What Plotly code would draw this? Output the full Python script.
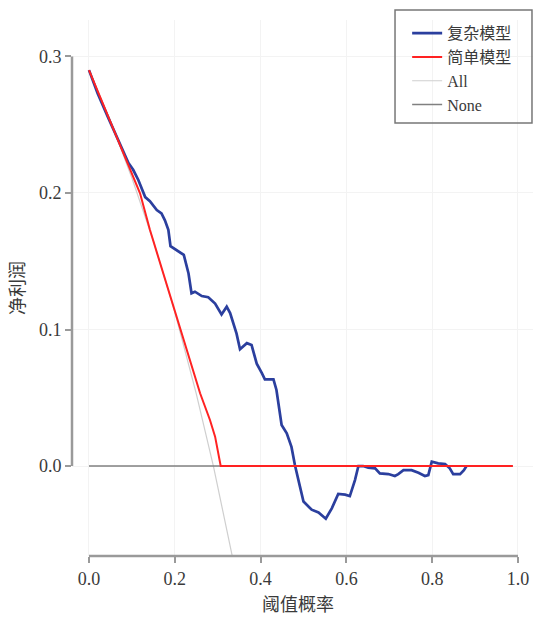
import plotly.graph_objects as go

# Threshold probabilities / net benefit
complex_x = [0, 0.02, 0.045, 0.07, 0.092, 0.103, 0.115, 0.131, 0.142, 0.158, 0.169, 0.177, 0.185,
             0.190, 0.204, 0.221, 0.232, 0.239, 0.247, 0.263, 0.278, 0.294, 0.309, 0.321, 0.329,
             0.344, 0.352, 0.368, 0.379, 0.391, 0.403, 0.410, 0.430, 0.437, 0.449, 0.461, 0.472,
             0.480, 0.490, 0.500, 0.519, 0.535, 0.552, 0.566, 0.581, 0.597, 0.608, 0.620, 0.628,
             0.639, 0.651, 0.667, 0.678, 0.698, 0.713, 0.721, 0.733, 0.752, 0.768, 0.783, 0.791,
             0.799, 0.814, 0.830, 0.841, 0.849, 0.865, 0.874, 0.880]
complex_y = [0.29, 0.273, 0.255, 0.237, 0.222, 0.217, 0.2095, 0.197, 0.194, 0.1875, 0.185, 0.180,
             0.173, 0.161, 0.158, 0.1546, 0.141, 0.1265, 0.1277, 0.1245, 0.1236, 0.119, 0.111,
             0.1167, 0.112, 0.097, 0.0855, 0.090, 0.0886, 0.075, 0.068, 0.0635, 0.0635, 0.0557,
             0.030, 0.024, 0.014, 0.0007, -0.0127, -0.026, -0.032, -0.034, -0.0386, -0.031,
             -0.0205, -0.021, -0.022, -0.0103, 0.0, 0.0, -0.0012, -0.0017, -0.0054, -0.0059,
             -0.0073, -0.0059, -0.003, -0.003, -0.0049, -0.0073, -0.0066, 0.0032, 0.002, 0.0015,
             -0.0017, -0.0059, -0.0059, -0.003, 0.0]

simple_x = [0, 0.045, 0.092, 0.119, 0.142, 0.166, 0.189, 0.212, 0.235, 0.259, 0.282, 0.294, 0.307, 0.988]
simple_y = [0.29, 0.256, 0.2205, 0.1998, 0.173, 0.1485, 0.124, 0.101, 0.0777, 0.0533, 0.0337, 0.0215, 0.0, 0.0]

all_x = [0, 0.05, 0.1, 0.15, 0.2, 0.25, 0.29, 0.336]
all_y = [0.29, 0.253, 0.211, 0.165, 0.113, 0.053, 0.0, -0.069]

none_x = [0, 0.988]
none_y = [0, 0]

x_ticks = [0.0, 0.2, 0.4, 0.6, 0.8, 1.0]
x_tick_labels = ["0.0", "0.2", "0.4", "0.6", "0.8", "1.0"]
y_ticks = [0.0, 0.1, 0.2, 0.3]
y_tick_labels = ["0.0", "0.1", "0.2", "0.3"]

names = ["复杂模型", "简单模型", "All", "None"]
x_title = "阈值概率"
y_title = "净利润"

FONT = "Liberation Serif, Noto Sans CJK SC, serif"
AXIS_GRAY = "#9a9a9a"
TEXT = "#3a3a3a"

fig = go.Figure()
fig.add_trace(go.Scatter(x=all_x, y=all_y, mode="lines", name=names[2], legendrank=3,
                         line=dict(color="#cfcfcf", width=1.2)))
fig.add_trace(go.Scatter(x=none_x, y=none_y, mode="lines", name=names[3], legendrank=4,
                         line=dict(color="#808080", width=1.5)))
fig.add_trace(go.Scatter(x=complex_x, y=complex_y, mode="lines", name=names[0], legendrank=1,
                         line=dict(color="#2b3f9e", width=2.7)))
fig.add_trace(go.Scatter(x=simple_x, y=simple_y, mode="lines", name=names[1], legendrank=2,
                         line=dict(color="#ff2222", width=2)))

fig.update_layout(
    width=533, height=618, autosize=False,
    margin=dict(l=72, r=0, t=20, b=62, autoexpand=False),
    paper_bgcolor="white", plot_bgcolor="white",
    font=dict(family=FONT, size=18, color=TEXT),
    showlegend=True,
    legend=dict(x=0.727, y=1.007, xanchor="left", yanchor="top",
                bgcolor="rgba(255,255,255,0)", borderwidth=0,
                font=dict(family=FONT, size=16, color=TEXT),
                itemwidth=30, traceorder="normal"),
    xaxis=dict(range=[-0.0396, 1.035], tickvals=x_ticks, ticktext=x_tick_labels,
               ticks="outside", ticklen=6, tickcolor=AXIS_GRAY, tickwidth=1.5,
               showgrid=True, gridcolor="#f3f3f3", gridwidth=1, zeroline=False,
               showline=False, automargin=False, tickfont=dict(size=18, color=TEXT)),
    yaxis=dict(range=[-0.0659, 0.3267], tickvals=y_ticks, ticktext=y_tick_labels,
               ticks="outside", ticklen=6, tickcolor=AXIS_GRAY, tickwidth=1.5,
               showgrid=True, gridcolor="#f3f3f3", gridwidth=1, zeroline=False,
               showline=False, automargin=False, tickfont=dict(size=18, color=TEXT)),
    annotations=[
        dict(text=x_title, xref="paper", yref="paper", x=0.49, y=-0.0914,
             xanchor="center", yanchor="middle", showarrow=False,
             font=dict(size=18, color=TEXT)),
        dict(text=y_title, xref="paper", yref="paper", x=-0.117, y=0.5,
             xanchor="center", yanchor="middle", showarrow=False, textangle=-90,
             font=dict(size=18, color=TEXT)),
    ],
    shapes=[
        dict(type="line", xref="paper", yref="y", x0=0, x1=0, y0=y_ticks[0], y1=y_ticks[-1],
             line=dict(color=AXIS_GRAY, width=2.5)),
        dict(type="line", xref="x", yref="paper", x0=x_ticks[0], x1=x_ticks[-1], y0=0, y1=0,
             line=dict(color=AXIS_GRAY, width=2.5)),
        dict(type="rect", xref="paper", yref="paper", x0=0.7007, x1=0.9978, y0=0.8078, y1=1.0187,
             line=dict(color="#777777", width=1.5), fillcolor="rgba(0,0,0,0)", layer="above"),
    ],
)

fig.write_html("out.html", config={"displayModeBar": False},
               post_script="document.body.style.margin='0';document.body.style.overflow='hidden';")
